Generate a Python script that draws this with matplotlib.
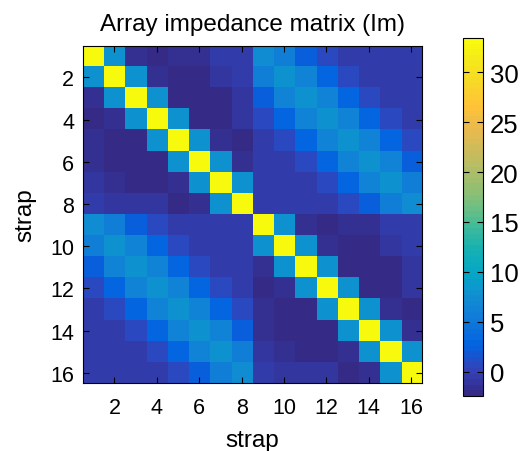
# Array impedance matrix (imaginary part), 16 straps in two rows of 8
import numpy as np
import matplotlib
matplotlib.use('Agg')
from matplotlib import pyplot as plt
from matplotlib.colors import LinearSegmentedColormap

plt.rcParams['font.family'] = ['Liberation Sans', 'DejaVu Sans']

straps = np.arange(1, 17)
tick_straps = [2, 4, 6, 8, 10, 12, 14, 16]
cbar_ticks = [0, 5, 10, 15, 20, 25, 30]

# coupling inside one row of 8 straps (same for both rows)
self_block = [
    [33.4, 8.0, -1.5, -2.4, -1.3, -1.3, -0.6, -0.6],
    [8.0, 33.4, 8.0, -1.5, -2.0, -2.0, -1.1, -0.6],
    [-1.3, 8.0, 33.4, 8.0, -2.0, -2.0, -2.0, -1.1],
    [-2.4, -1.5, 8.0, 33.4, 8.0, -2.0, -2.0, -1.1],
    [-1.3, -2.0, -2.0, 8.0, 33.4, 8.0, -1.5, -2.4],
    [-1.3, -2.0, -2.0, -2.0, 8.0, 33.4, 8.0, -1.5],
    [-0.8, -1.3, -2.0, -2.0, -1.5, 8.0, 33.4, 8.0],
    [-0.6, -0.8, -1.1, -1.1, -2.4, -1.5, 8.0, 33.4],
]

# coupling between row 1 (straps 1-8) and row 2 (straps 9-16)
cross_block = [
    [7.5, 5.5, 2.5, 0.8, -0.3, -0.3, -0.3, -0.3],
    [5.5, 8.0, 6.5, 3.0, 0.8, -0.3, -0.3, -0.3],
    [2.5, 6.5, 8.0, 6.5, 3.0, 0.8, -0.3, -0.3],
    [0.8, 3.0, 6.5, 8.0, 6.5, 3.0, 0.8, -0.3],
    [-0.3, 0.8, 3.0, 6.5, 8.0, 6.5, 3.0, 0.8],
    [-0.3, -0.3, 0.8, 3.0, 6.5, 8.0, 6.5, 2.5],
    [-0.3, -0.3, -0.3, 0.8, 3.0, 6.5, 8.0, 5.5],
    [-0.3, -0.3, -0.3, -0.3, 0.8, 2.5, 5.5, 7.5],
]

S = np.array(self_block)
C = np.array(cross_block)
Z = np.block([[S, C], [C.T, S]])

# matlab parula (sampled)
parula_pts = [
    (0.2081, 0.1663, 0.5292), (0.1959, 0.2645, 0.7279), (0.0117, 0.3875, 0.8820),
    (0.0629, 0.4737, 0.8554), (0.0641, 0.5570, 0.8240), (0.0228, 0.6535, 0.7768),
    (0.0843, 0.6928, 0.7062), (0.2586, 0.7317, 0.5954), (0.4871, 0.7491, 0.4840),
    (0.6473, 0.7456, 0.4188), (0.7858, 0.7356, 0.3633), (0.9139, 0.7258, 0.3063),
    (0.9990, 0.7653, 0.2164), (0.9697, 0.8481, 0.1475), (0.9598, 0.9218, 0.0948),
    (0.9763, 0.9831, 0.0538),
]
pos = list(np.linspace(0, 60, 15) / 63) + [1.0]
parula = LinearSegmentedColormap.from_list('parula', list(zip(pos, parula_pts)), N=64)

fig = plt.figure(figsize=(5.29, 4.52), dpi=100)
ax = fig.add_axes([0.1563, 0.1498, 0.6409, 0.7469])
im = ax.imshow(Z, cmap=parula, vmin=Z.min(), vmax=Z.max(), aspect='auto',
               interpolation='nearest',
               extent=(straps[0] - 0.5, straps[-1] + 0.5, straps[-1] + 0.5, straps[0] - 0.5))
ax.set_xticks(tick_straps)
ax.set_yticks(tick_straps)
ax.tick_params(direction='in', top=True, right=True, length=4, width=0.8,
               labelsize=15.5)
ax.tick_params(axis='x', pad=10)
ax.tick_params(axis='y', pad=6)
for s in ax.spines.values():
    s.set_linewidth(0.8)
ax.set_xlabel('strap', fontsize=17.5, labelpad=8)
ax.set_ylabel('strap', fontsize=17.5, labelpad=10)
ax.set_title('Array impedance matrix (Im)', fontsize=17.5, pad=11)

cax = fig.add_axes([0.8758, 0.1217, 0.0378, 0.792])
cb = fig.colorbar(im, cax=cax, ticks=cbar_ticks)
cb.ax.tick_params(direction='in', left=True, right=True, length=4, width=0.8,
                  labelsize=18.5, pad=5)
cb.outline.set_linewidth(0.8)

fig.savefig('out.png', dpi=100)
